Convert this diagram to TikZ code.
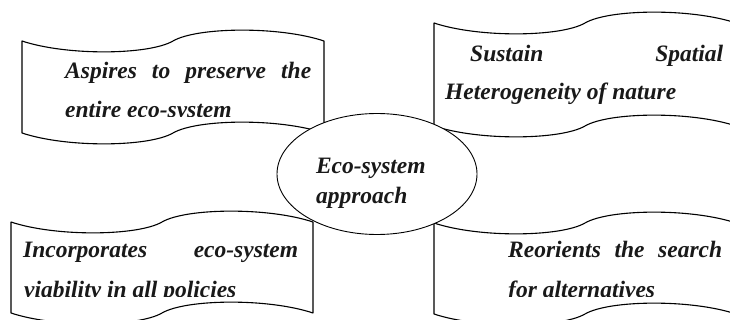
\documentclass[tikz,border=0pt]{standalone}
\usepackage{fontspec}
\setmainfont{Liberation Serif}
\usetikzlibrary{shapes.geometric}

\begin{document}
\begin{tikzpicture}[x=1pt,y=-1pt]
\tikzstyle{flag}=[draw=black,line width=1.1pt,line join=round]
\tikzstyle{say}=[anchor=base west,inner sep=0pt,text=black!90,font=\fontsize{23.5}{39}\selectfont\bfseries\itshape]
\useasboundingbox (0,0) rectangle (730,320);
\clip (0,0) rectangle (730,320);
% the four wave banners
\foreach \name/\fx/\fy/\fh in {
	tl/22/41/92,
	tr/434/23/103,
	bl/11/222/91,
	br/434/223/91}
	\draw[flag] (\fx,\fy) .. controls +(45,15) and +(-24,14) .. ++(151,0)
		.. controls +(24,-14) and +(-45,-15) .. ++(151,0)
		-- ++(0,\fh) .. controls +(-45,-15) and +(24,-14) .. ++(-151,0)
		.. controls +(-24,14) and +(45,15) .. ++(-151,0) -- cycle;
% banner texts, second lines cut at the text box
\begin{scope}
\clip (0,0) rectangle (330,117);
\node[say] (tl1) at (65,79) {\makebox[246pt][s]{Aspires to preserve the}};
\node[say] (tl2) at (65,118) {entire eco-system};
\end{scope}
\node[say] (tr1) at (470,62) {\makebox[253pt][s]{Sustain Spatial}};
\node[say] (tr2) at (445,100) {Heterogeneity of nature};
\begin{scope}
\clip (0,200) rectangle (330,296);
\node[say] (bl1) at (23,258) {\makebox[275pt][s]{Incorporates eco-system}};
\node[say] (bl2) at (24,297) {viability in all policies};
\end{scope}
\begin{scope}
\clip (430,200) rectangle (730,296);
\node[say] (br1) at (508,258) {\makebox[214pt][s]{Reorients the search}};
\node[say] (br2) at (508,297) {for alternatives};
\end{scope}
% centre ellipse on top
\node[ellipse,draw=black,fill=white,line width=0.9pt,minimum width=200pt,minimum height=121pt,
	inner sep=0pt,align=left,text width=122pt,text depth=16pt,text=black!90,
	font=\fontsize{23.5}{30}\selectfont\bfseries\itshape] (eco) at (377,174) {Eco-system\\approach};
\end{tikzpicture}
\end{document}
